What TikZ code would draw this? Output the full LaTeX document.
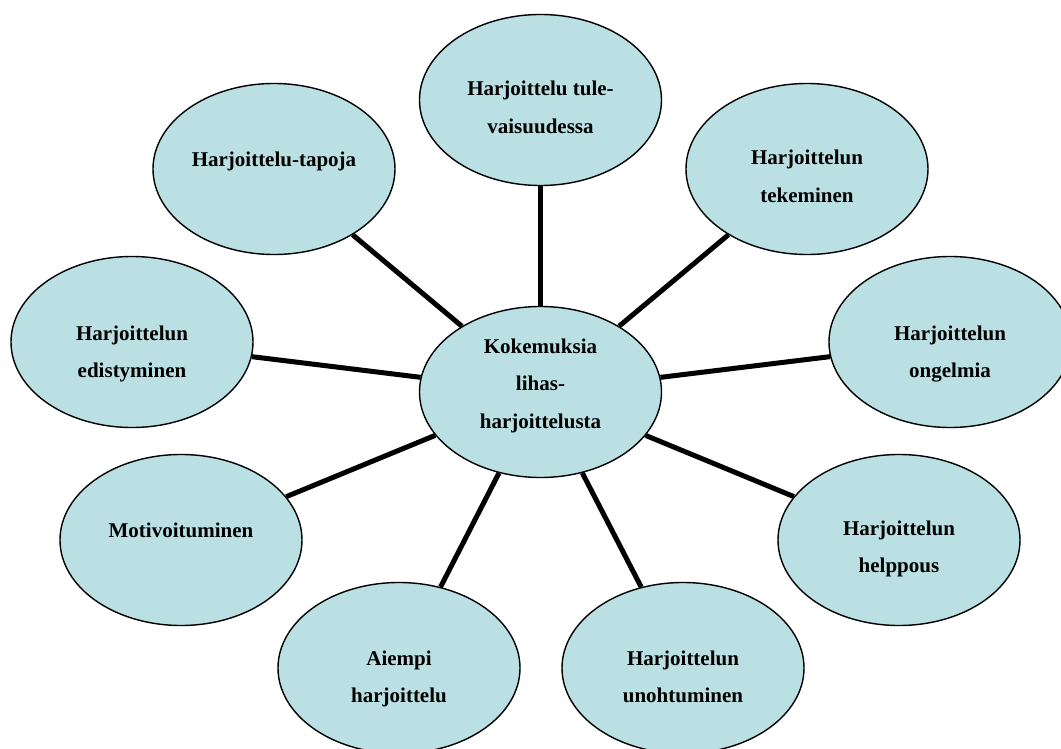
\documentclass[tikz,border=0pt]{standalone}
\usepackage{fontspec}
\setmainfont{Liberation Serif}
\usetikzlibrary{shapes.geometric}

\definecolor{bubblefill}{RGB}{186,224,227}

\tikzset{
  bubble/.style={ellipse, draw=black, line width=1.4pt, fill=bubblefill,
    minimum width=242pt, minimum height=171pt, inner sep=0pt},
  txt/.style={anchor=base, align=center, inner sep=0pt,
    font=\fontsize{21}{37.5}\selectfont\bfseries},
  spoke/.style={line width=5pt}
}

\begin{document}
\begin{tikzpicture}[x=1pt, y=-1pt]
  \useasboundingbox (0,0) rectangle (1061,749);

  % Centre and the nine surrounding bubbles
  \node[bubble] (core)   at (540.5,392) {};
  \node[bubble] (future) at (540.5,100) {};
  \node[bubble] (ways)   at (274,169) {};
  \node[bubble] (doing)  at (807,169) {};
  \node[bubble] (progr)  at (132,342) {};
  \node[bubble] (probl)  at (950,342) {};
  \node[bubble] (motiv)  at (181,540) {};
  \node[bubble] (ease)   at (899,540) {};
  \node[bubble] (before) at (399,668) {};
  \node[bubble] (forget) at (683,668) {};

  % Spokes from the centre
  \foreach \b in {future,ways,doing,progr,probl,motiv,ease,before,forget} {
    \draw[spoke] (core) -- (\b);
  }

  % Texts (placed at the baseline of the last line)
  \node[txt] (core-t)   at (540.5,428)  {Kokemuksia\\lihas-\\harjoittelusta};
  \node[txt] (future-t) at (540.5,133.5) {Harjoittelu tule-\\vaisuudessa};
  \node[txt] (ways-t)   at (274,167)    {Harjoittelu-tapoja};
  \node[txt] (doing-t)  at (807,202.5)  {Harjoittelun\\tekeminen};
  \node[txt] (progr-t)  at (132,377.5)  {Harjoittelun\\edistyminen};
  \node[txt] (probl-t)  at (950,377.5)  {Harjoittelun\\ongelmia};
  \node[txt] (motiv-t)  at (181,537)    {Motivoituminen};
  \node[txt] (ease-t)   at (899,572.5)  {Harjoittelun\\helppous};
  \node[txt] (before-t) at (399,702.5)  {Aiempi\\harjoittelu};
  \node[txt] (forget-t) at (683,702.5)  {Harjoittelun\\unohtuminen};
\end{tikzpicture}
\end{document}
